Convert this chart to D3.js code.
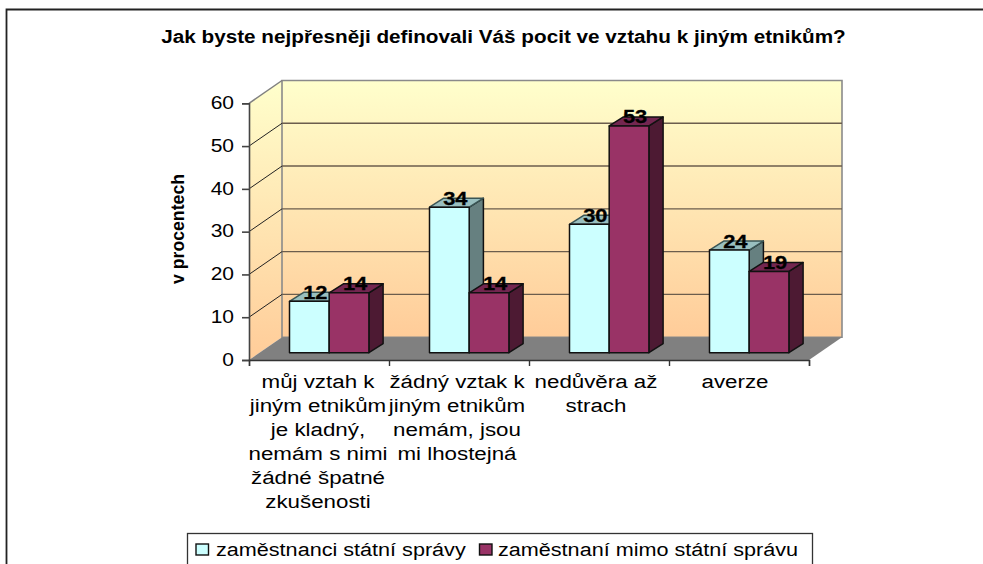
<!DOCTYPE html>
<html><head><meta charset="utf-8">
<script src="https://cdn.jsdelivr.net/npm/d3@7"></script>
<style>html,body{margin:0;padding:0;background:#fff;overflow:hidden}svg{display:block}text{font-family:"Liberation Sans",Arial,sans-serif;fill:#000}</style>
</head><body><svg id="c" width="983" height="564"></svg>
<script>
const titleText = "Jak byste nejpřesněji definovali Váš pocit ve vztahu k jiným etnikům?";
const axisTitle = "v procentech";
const categories = ["c1","c2","c3","c4"];
const categoryLines = [
 ["můj vztah k","jiným etnikům","je kladný,","nemám s nimi","žádné špatné","zkušenosti"],
 ["žádný vztak k","jiným etnikům","nemám, jsou","mi lhostejná"],
 ["nedůvěra až","strach"],
 ["averze"]];
const seriesNames = ["zaměstnanci státní správy","zaměstnaní mimo státní správu"];
const statni = [12,34,30,24];
const mimo = [14,14,53,19];
const yTicks = [0,10,20,30,40,50,60];
const colors = [{front:"#CCFFFF",side:"#668080",top:"#99BFBF"},{front:"#993366",side:"#4D1A33",top:"#732650"}];

const svg = d3.select("#c");
const y = d3.scaleLinear().domain([0,60]).range([360,103.3]);
const x = d3.scaleBand().domain(categories).range([249,809]);
const labelX = d3.scaleBand().domain(categories).range([248.5,804.5]);
const series = [statni,mimo];
const x1 = d3.scaleBand().domain([0,1]).range([0,79.4]);
const wall = {dx:33,dy:-22.8};
const plane = {dx:10.2,dy:-7.3};
const depth = {dx:14.2,dy:-9};
const barX = (cat,s)=> x(cat)+plane.dx+(x.bandwidth()-x1.range()[1])/2 + x1(s);
const stretch = (t,f)=> t.attr("textLength",t.node().getComputedTextLength()*f).attr("lengthAdjust","spacingAndGlyphs");

const grad = svg.append("defs").append("linearGradient").attr("id","wg").attr("x1",0).attr("y1",0).attr("x2",0).attr("y2",1);
grad.append("stop").attr("offset","0").attr("stop-color","#FFFFCC");
grad.append("stop").attr("offset","1").attr("stop-color","#FFCC99");

// frame
svg.append("path").attr("d","M6.5,570V9.5H990").attr("fill","none").attr("stroke","#222").attr("stroke-width",1.8);

// title
stretch(svg.append("text").attr("x",503.5).attr("y",43).attr("text-anchor","middle").attr("font-size",18).attr("font-weight","bold").text(titleText),1.15);

const [x0,xN]=x.range();
const yB=y(0), yT=y(60);
const line = d3.line();
// walls
svg.append("path").attr("d",line([[x0,yB],[x0+wall.dx,yB+wall.dy],[x0+wall.dx,yT+wall.dy],[x0,yT]])+"Z").attr("fill","url(#wg)");
svg.append("path").attr("d",line([[x0+wall.dx,yB+wall.dy],[xN+wall.dx,yB+wall.dy],[xN+wall.dx,yT+wall.dy],[x0+wall.dx,yT+wall.dy]])+"Z").attr("fill","url(#wg)").attr("stroke","#8a8a8a").attr("stroke-width",1.6);
svg.append("path").attr("d",line([[x0,yT],[x0+wall.dx,yT+wall.dy]])).attr("stroke","#808080").attr("stroke-width",1.5).attr("fill","none");
// gridlines
yTicks.filter(t=>t>0&&t<60).forEach(t=>{
  svg.append("path").attr("d",line([[x0,y(t)],[x0+wall.dx,y(t)+wall.dy]])).attr("stroke","#222").attr("stroke-width",1).attr("fill","none");
  svg.append("path").attr("d",line([[x0+wall.dx,y(t)+wall.dy],[xN+wall.dx,y(t)+wall.dy]])).attr("stroke","#6b5d4d").attr("stroke-width",1.4).attr("fill","none");
});
// floor
svg.append("path").attr("d",line([[x0,yB],[xN,yB],[xN+wall.dx,yB+wall.dy],[x0+wall.dx,yB+wall.dy]])+"Z").attr("fill","#808080");

// axes
const gy = svg.append("g").attr("transform",`translate(${x0},0)`).call(d3.axisLeft(y).tickValues(yTicks).tickSize(7).tickPadding(8));
gy.selectAll("text").attr("font-size",17.5).style("font-family",'"Liberation Sans"').attr("dy","0.3em").each(function(){stretch(d3.select(this),1.2);});
gy.selectAll("line,path").attr("stroke","#444").attr("stroke-width",1.6);
const tickScale = d3.scaleLinear().domain([0,4]).range([x0,xN]);
const gx = svg.append("g").attr("transform",`translate(0,${yB})`).call(d3.axisBottom(tickScale).tickValues([0,1,2,3,4]).tickSize(6).tickFormat(""));
gx.selectAll("line,path").attr("stroke","#333").attr("stroke-width",1.4);

// bars
const h = 1.5, stroke="#111";
categories.forEach((cat,i)=>{
  series.forEach((vals,s)=>{
    const bx=barX(cat,s), w=x1.bandwidth(), b=y(0)+plane.dy, t=y(vals[i])+plane.dy;
    const c=colors[s];
    const g=svg.append("g").attr("stroke",stroke).attr("stroke-width",h).attr("stroke-linejoin","round");
    g.append("path").attr("d",line([[bx+w,b],[bx+w+depth.dx,b+depth.dy],[bx+w+depth.dx,t+depth.dy],[bx+w,t]])+"Z").attr("fill",c.side);
    g.append("path").attr("d",line([[bx,t],[bx+depth.dx,t+depth.dy],[bx+w+depth.dx,t+depth.dy],[bx+w,t]])+"Z").attr("fill",c.top).attr("stroke",s?"#111":"#3a5555");
    g.append("rect").attr("x",bx).attr("y",t).attr("width",w).attr("height",b-t).attr("fill",c.front);
  });
});
// value labels
categories.forEach((cat,i)=>{
  series.forEach((vals,s)=>{
    stretch(svg.append("text").attr("x",barX(cat,s)+x1.bandwidth()/2+6).attr("y",y(vals[i])+plane.dy-2.5)
      .attr("text-anchor","middle").attr("font-size",19).attr("font-weight","bold").attr("stroke","#000").attr("stroke-width",0.3).text(vals[i]),1.15);
  });
});
// category labels
categories.forEach((cat,i)=>{
  categoryLines[i].forEach((l,k)=>{
    stretch(svg.append("text").attr("text-anchor","middle").attr("font-size",18)
      .attr("x",labelX(cat)+labelX.bandwidth()/2).attr("y",387.5+k*24).text(l),1.24);
  });
});
// y title
stretch(svg.append("text").attr("transform","translate(184,229) rotate(-90)").attr("text-anchor","middle").attr("font-size",17.5).attr("font-weight","bold").text(axisTitle),1.01);

// legend (runs off the lower edge)
svg.append("rect").attr("x",187.5).attr("y",533.5).attr("width",625).attr("height",50).attr("fill","#fff").attr("stroke","#333").attr("stroke-width",1.3);
const lgX=[196,479.5], ltX=[216,498];
seriesNames.forEach((n,s)=>{
  svg.append("rect").attr("x",lgX[s]).attr("y",544).attr("width",12.5).attr("height",11).attr("fill",colors[s].front).attr("stroke","#111").attr("stroke-width",1.4);
  stretch(svg.append("text").attr("x",ltX[s]).attr("y",555.5).attr("font-size",18).text(n),1.2);
});
</script></body></html>
